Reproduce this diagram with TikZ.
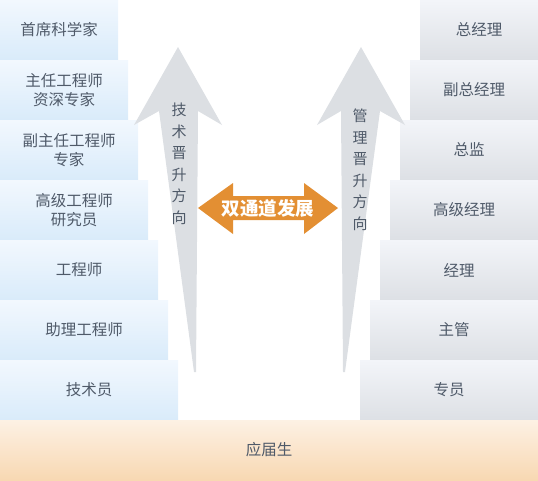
\documentclass[tikz,border=0pt]{standalone}
\usepackage{fontspec}
\setmainfont{Noto Sans CJK SC}
\definecolor{txt}{HTML}{4F5A69}
\definecolor{ltop}{HTML}{F2F8FE}
\definecolor{lbot}{HTML}{D9EBFA}
\definecolor{rtop}{HTML}{F3F5F9}
\definecolor{rbot}{HTML}{DDE0E5}
\definecolor{btop}{HTML}{FDF1E4}
\definecolor{bbot}{HTML}{F8D8B2}
\definecolor{arrowgrey}{HTML}{DCDFE3}
\definecolor{orangearrow}{HTML}{E38F33}
\begin{document}
\begin{tikzpicture}[x=1pt,y=-1pt,
  boxbase/.style={inner sep=0pt, minimum height=60pt, align=center, text=txt,
    font=\fontsize{15.5}{18.5}\selectfont},
  lbox/.style={boxbase, top color=ltop, bottom color=lbot},
  rbox/.style={boxbase, top color=rtop, bottom color=rbot},
  bbox/.style={boxbase, top color=btop, bottom color=bbot},
  vtext/.style={inner sep=0pt, align=center, text=txt, font=\fontsize{15}{21.5}\selectfont},
  greyarrow/.style={fill=arrowgrey, draw=none},
  orangeshape/.style={fill=orangearrow, draw=none}]
\useasboundingbox (0,0) rectangle (538,480);
% left column
\node[lbox, minimum width=118pt] (l1) at (59,30) {首席科学家};
\node[lbox, minimum width=128pt] (l2) at (64,90) {主任工程师\\资深专家};
\node[lbox, minimum width=138pt] (l3) at (69,150) {副主任工程师\\专家};
\node[lbox, minimum width=148pt] (l4) at (74,210) {高级工程师\\研究员};
\node[lbox, minimum width=158pt] (l5) at (79,270) {工程师};
\node[lbox, minimum width=168pt] (l6) at (84,330) {助理工程师};
\node[lbox, minimum width=178pt] (l7) at (89,390) {技术员};
% right column
\node[rbox, minimum width=118pt] (r1) at (479,30) {总经理};
\node[rbox, minimum width=128pt] (r2) at (474,90) {副总经理};
\node[rbox, minimum width=138pt] (r3) at (469,150) {总监};
\node[rbox, minimum width=148pt] (r4) at (464,210) {高级经理};
\node[rbox, minimum width=158pt] (r5) at (459,270) {经理};
\node[rbox, minimum width=168pt] (r6) at (454,330) {主管};
\node[rbox, minimum width=178pt] (r7) at (449,390) {专员};
% bottom band
\node[bbox, minimum width=538pt] (base) at (269,450) {应届生};
% left grey arrow
\path[greyarrow] (178,47) -- (222,125) -- (198,111) -- (196,372) -- (194,372)
  -- (159,111) -- (134,125) -- cycle;
\node[vtext] (ltxt) at (179,164) {技\\术\\晋\\升\\方\\向};
% right grey arrow
\path[greyarrow] (361,47) -- (405,125) -- (380,111) -- (345,372) -- (343,372)
  -- (341,111) -- (317,125) -- cycle;
\node[vtext] (rtxt) at (360,170) {管\\理\\晋\\升\\方\\向};
% orange double arrow
\path[orangeshape] (198,208) -- (233,183) -- (233,196) -- (304,196) -- (304,183)
  -- (338,208) -- (304,234) -- (304,220) -- (233,220) -- (233,234) -- cycle;
\node[inner sep=0pt, text=white, font=\fontsize{18.5}{20}\selectfont\bfseries] (mid) at (268,208) {双通道发展};
\end{tikzpicture}
\end{document}
